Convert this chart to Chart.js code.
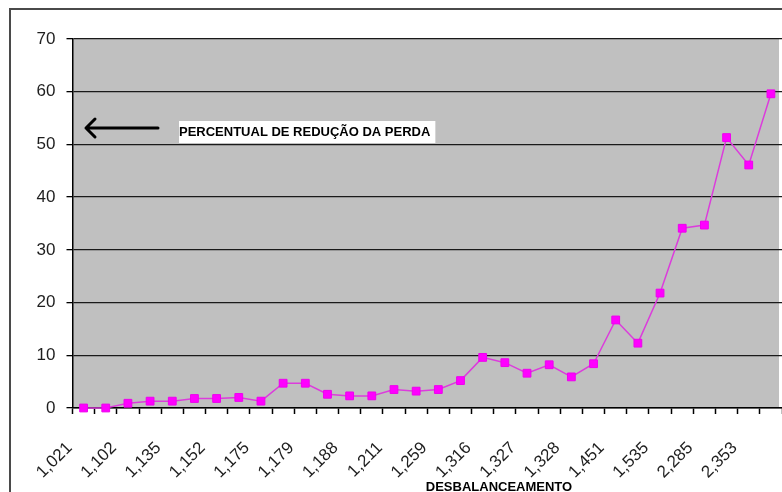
<!DOCTYPE html>
<html>
<head>
<meta charset="utf-8">
<script src="https://cdn.jsdelivr.net/npm/chart.js@4/dist/chart.umd.min.js"></script>
<style>
  html, body { margin: 0; padding: 0; background: #ffffff; overflow: hidden; }
  #wrap { width: 782px; height: 492px; position: relative; }
</style>
</head>
<body>
<div id="wrap"><canvas id="c" width="782" height="492"></canvas></div>
<script>
// Imbalance levels shown on the axis (every other category carries a label)
const tickLabels = ['1,021', '1,102', '1,135', '1,152', '1,175', '1,179', '1,188', '1,211',
                    '1,259', '1,316', '1,327', '1,328', '1,451', '1,535', '2,285', '2,353'];

// Loss reduction (%) for each imbalance level
const reduction = [0, 0, 0.9, 1.3, 1.3, 1.8, 1.8, 2.0, 1.3, 4.7, 4.7, 2.6, 2.3, 2.3, 3.5, 3.2,
                   3.5, 5.2, 9.6, 8.6, 6.6, 8.2, 5.9, 8.4, 16.7, 12.3, 21.8, 34.1, 34.7, 51.3, 46.1, 59.6];

const yTicks = [0, 10, 20, 30, 40, 50, 60, 70];

const seriesNote = 'PERCENTUAL DE REDUÇÃO DA PERDA';
const axisTitle = 'DESBALANCEAMENTO';

// One category per measurement; labels only on even positions
const categories = reduction.map((_, i) => (i % 2 === 0 ? tickLabels[i / 2] : ''));

const FONT = '"Liberation Sans", Arial, sans-serif';

const frameAndPlot = {
  id: 'frameAndPlot',
  beforeDraw(chart) {
    const { ctx, chartArea: a } = chart;
    ctx.save();
    // outer chart frame
    ctx.strokeStyle = '#4a4a4a';
    ctx.lineWidth = 2;
    ctx.beginPath();
    ctx.moveTo(10, 600);
    ctx.lineTo(10, 9);
    ctx.lineTo(900, 9);
    ctx.stroke();
    // grey plot background
    ctx.fillStyle = '#c0c0c0';
    ctx.fillRect(a.left, a.top, a.right - a.left - 3, a.bottom - a.top);
    ctx.restore();
  },
  afterDraw(chart) {
    const { ctx } = chart;
    ctx.save();
    // arrow pointing at the value axis
    const y = 128;
    ctx.strokeStyle = '#000';
    ctx.lineWidth = 3;
    ctx.lineCap = 'round';
    ctx.lineJoin = 'round';
    ctx.beginPath();
    ctx.moveTo(158, y);
    ctx.lineTo(86, y);
    ctx.moveTo(95, y - 9);
    ctx.lineTo(86, y);
    ctx.lineTo(95, y + 9);
    ctx.stroke();

    // series note in a white box
    ctx.font = 'bold 13px ' + FONT;
    const w = ctx.measureText(seriesNote).width;
    ctx.fillStyle = '#ffffff';
    ctx.fillRect(179, 121, w + 5, 22);
    ctx.fillStyle = '#000';
    ctx.textBaseline = 'alphabetic';
    ctx.fillText(seriesNote, 179, 135.5);

    // category axis title
    ctx.font = 'bold 13px ' + FONT;
    ctx.textAlign = 'center';
    ctx.fillText(axisTitle, 499, 491);
    ctx.restore();
  }
};

new Chart(document.getElementById('c'), {
  type: 'line',
  data: {
    labels: categories,
    datasets: [{
      data: reduction,
      borderColor: '#dc3cdc',
      borderWidth: 1.5,
      backgroundColor: '#ff00ff',
      pointBackgroundColor: '#ff00ff',
      pointBorderColor: '#ee00ee',
      pointBorderWidth: 1,
      pointStyle: 'rect',
      pointRadius: 5.5,
      tension: 0,
      clip: false
    }]
  },
  options: {
    responsive: false,
    animation: false,
    devicePixelRatio: 1,
    layout: { autoPadding: false, padding: { top: 39, left: 0, right: 0, bottom: 0 } },
    plugins: { legend: { display: false }, tooltip: { enabled: false } },
    scales: {
      x: {
        type: 'category',
        offset: true,
        afterFit(s) { s.height = 84; s.paddingLeft = 0; s.paddingRight = 0; },
        grid: {
          offset: true,
          drawOnChartArea: false,
          drawTicks: true,
          tickLength: 6,
          tickColor: '#000',
          tickWidth: 1.5
        },
        border: { display: true, color: '#000', width: 1.5 },
        ticks: {
          autoSkip: false,
          maxRotation: 45,
          minRotation: 45,
          padding: 24,
          labelOffset: -14,
          color: '#1e1e1e',
          font: { family: FONT, size: 17 },
          callback(v, i) { return categories[i]; }
        }
      },
      y: {
        min: 0,
        max: 70,
        afterFit(s) { s.width = 72.5; s.paddingTop = 0; s.paddingBottom = 0; },
        afterBuildTicks(s) { s.ticks = yTicks.map(v => ({ value: v })); },
        grid: {
          color: '#1a1a1a',
          lineWidth: 1.3,
          drawTicks: true,
          tickLength: 6,
          tickColor: '#000'
        },
        border: { display: true, color: '#000', width: 1.5 },
        ticks: {
          padding: 11,
          color: '#1e1e1e',
          font: { family: FONT, size: 17 }
        }
      }
    }
  },
  plugins: [frameAndPlot]
});
</script>
</body>
</html>
